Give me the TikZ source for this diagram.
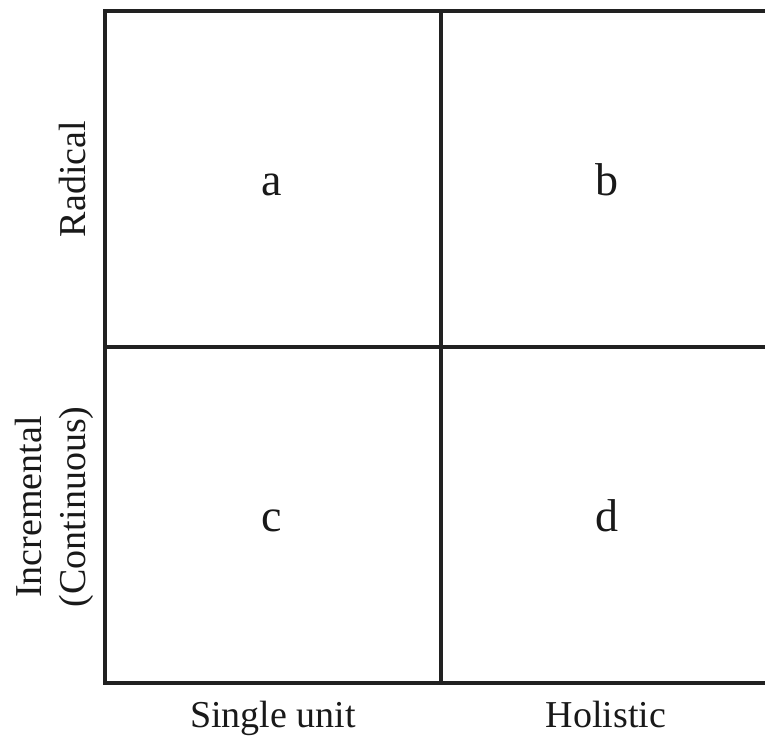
\documentclass[tikz,border=0pt]{standalone}
\usepackage{fontspec}
\setmainfont{Liberation Serif}
\usepackage{tikz}
\usetikzlibrary{positioning}

\begin{document}
\begin{tikzpicture}[
      x=1pt, y=-1pt,
      font=\fontsize{38}{44}\selectfont,
      every node/.style={text=black!90},
      grid/.style={draw=black!87, line width=4pt},
      quad/.style={inner sep=0pt, anchor=base, font=\fontsize{46}{52}\selectfont},
      axis/.style={inner sep=0pt, anchor=base},
      side/.style={inner sep=0pt, rotate=90, align=center},
    ]
    \useasboundingbox (0,0) rectangle (765,742);
    % corners of the grid
    \coordinate (tl) at (105,11);
    \coordinate (tr) at (765,11);
    \coordinate (bl) at (105,683);
    \coordinate (br) at (765,683);
    \coordinate (ml) at (105,347);
    \coordinate (mr) at (765,347);
    \coordinate (mt) at (441,11);
    \coordinate (mb) at (441,683);
    \draw[grid] (tr) -- (tl) -- (bl) -- (br);
    \draw[grid] (ml) -- (mr);
    \draw[grid] (mt) -- (mb);
    % quadrants
    \node[quad] (qa) at (272,195) {a};
    \node[quad] (qb) at (607,195) {b};
    \node[quad] (qc) at (272,531) {c};
    \node[quad] (qd) at (607,531) {d};
    % axis labels
    \node[axis] (single) at (273,727) {Single unit};
    \node[axis] (holistic) at (606,727) {Holistic};
    \node[side] (radical) at (73,179) {Radical};
    \node[side, text width=200pt] (increm) at (54,507) {Incremental\\(Continuous)};
  \end{tikzpicture}
\end{document}
